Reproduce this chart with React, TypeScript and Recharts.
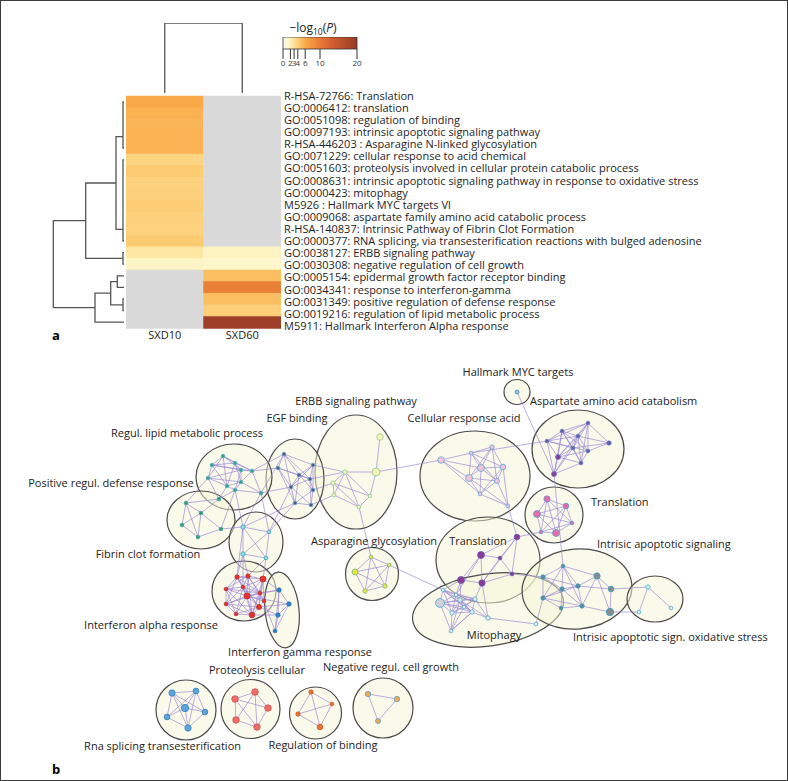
import React from 'react';
import {
  BarChart,
  Bar,
  Cell,
  XAxis,
  YAxis,
  ScatterChart,
  Scatter,
  ReferenceArea,
  ReferenceLine,
} from 'recharts';

const FONT = '"Open Sans", "Noto Sans", sans-serif';

// ---- panel a: enrichment heatmap ----
const terms = [
  'R-HSA-72766: Translation',
  'GO:0006412: translation',
  'GO:0051098: regulation of binding',
  'GO:0097193: intrinsic apoptotic signaling pathway',
  'R-HSA-446203 : Asparagine N-linked glycosylation',
  'GO:0071229: cellular response to acid chemical',
  'GO:0051603: proteolysis involved in cellular protein catabolic process',
  'GO:0008631: intrinsic apoptotic signaling pathway in response to oxidative stress',
  'GO:0000423: mitophagy',
  'M5926 : Hallmark MYC targets Vl',
  'GO:0009068: aspartate family amino acid catabolic process',
  'R-HSA-140837: Intrinsic Pathway of Fibrin Clot Formation',
  'GO:0000377: RNA splicing, via transesterification reactions with bulged adenosine',
  'GO:0038127: ERBB signaling pathway',
  'GO:0030308: negative regulation of cell growth',
  'GO:0005154: epidermal growth factor receptor binding',
  'GO:0034341: response to interferon-gamma',
  'GO:0031349: positive regulation of defense response',
  'GO:0019216: regulation of lipid metabolic process',
  'M5911: Hallmark Interferon Alpha response',
];
const samples = ['SXD10', 'SXD60'];
// -log10(P), null = not enriched
const sxd10 = [6.1, 5.6, 5.4, 5.5, 5.5, 3.8, 4.3, 3.9, 4.0, 4.2, 4.0, 3.9, 4.4, 2.7, 1.6, null, null, null, null, null];
const sxd60 = [null, null, null, null, null, null, null, null, null, null, null, null, null, 1.7, 1.4, 5.0, 9.5, 5.0, 4.1, 19];
const legendTicks = [0, 2, 3, 4, 6, 10, 20];

// dendrogram links: [from, to, height, heightFrom, heightTo]
const rowLinks = [
  [0.5, 4.5, 1, 0, 0],
  [5.5, 12.5, 1, 0, 0],
  [13.5, 14.5, 1, 0, 0],
  [3.5, 11.5, 8, 1, 1],
  [7.5, 14, 38.3, 8, 1],
  [15.5, 16.5, 6.7, 0, 0],
  [17.5, 18.5, 1, 0, 0],
  [16, 18, 13.3, 6.7, 1],
  [17, 19.5, 29, 13.3, 0],
  [10.75, 18.25, 70.7, 38.3, 29],
];
const colLinks = [[0.5, 1.5, 70, 0, 0]];

// ---- panel b: enrichment network (layout coordinates) ----
const clusterNames: Record<string, string> = {
  myc: 'Hallmark MYC targets',
  asp: 'Aspartate amino acid catabolism',
  cra: 'Cellular response acid',
  trr: 'Translation',
  trm: 'Translation',
  mit: 'Mitophagy',
  ias: 'Intrisic apoptotic signaling',
  oxs: 'Intrisic apoptotic sign. oxidative stress',
  erb: 'ERBB signaling pathway',
  egf: 'EGF binding',
  lip: 'Regul. lipid metabolic process',
  pos: 'Positive regul. defense response',
  fib: 'Fibrin clot formation',
  ifa: 'Interferon alpha response',
  ifg: 'Interferon gamma response',
  asn: 'Asparagine glycosylation',
  rna: 'Rna splicing transesterification',
  pro: 'Proteolysis cellular',
  reg: 'Regulation of binding',
  neg: 'Negative regul. cell growth',
};

// cluster hulls: [id, x, y, rx, ry, rotation]
const hulls: [string, number, number, number, number, number][] = [
  ['myc', 517, 392, 13, 12.5, 0],
  ['asp', 578, 449, 46, 39, 0],
  ['cra', 475, 476, 55, 45, 0],
  ['trr', 554, 515, 29, 28, 0],
  ['trm', 488, 560, 52, 43, 0],
  ['mit', 488, 610, 76, 36, -8],
  ['ias', 577, 589, 55, 40, -5],
  ['oxs', 655, 599, 28, 23, 0],
  ['erb', 356, 472, 41, 57, 0],
  ['egf', 295, 479, 29, 40, 0],
  ['lip', 234, 477, 38, 33, 0],
  ['pos', 201, 520, 34, 29, 0],
  ['fib', 256, 542, 27, 30, 0],
  ['ifa', 244, 591, 32, 30, 0],
  ['ifg', 282, 610, 17, 38, -6],
  ['asn', 372, 574, 26.5, 26.5, 0],
  ['rna', 186, 710, 30, 30, 0],
  ['pro', 250.5, 709, 29.5, 29.5, 0],
  ['reg', 315.5, 713, 26, 26, 0],
  ['neg', 383, 708, 30, 30, 0],
];

// label spots: [id, x, y, anchor]
const labelSpots: [string, number, number, string][] = [
  ['myc', 518, 372, 'middle'],
  ['asp', 530, 401, 'start'],
  ['cra', 464, 418, 'middle'],
  ['trr', 591, 502, 'start'],
  ['trm', 478, 541, 'middle'],
  ['mit', 494, 635, 'middle'],
  ['ias', 597, 544, 'start'],
  ['oxs', 573, 637, 'start'],
  ['erb', 356, 401, 'middle'],
  ['egf', 297, 418, 'middle'],
  ['lip', 187, 433, 'middle'],
  ['pos', 111, 483, 'middle'],
  ['fib', 148, 554, 'middle'],
  ['ifa', 151, 625, 'middle'],
  ['ifg', 300, 652, 'middle'],
  ['asn', 374, 541, 'middle'],
  ['rna', 241, 746, 'end'],
  ['pro', 257, 670, 'middle'],
  ['reg', 323, 745, 'middle'],
  ['neg', 391, 667, 'middle'],
];

// nodes: [id, x, y, size]
const nodes: [string, number, number, number][] = [
  ['myc0', 517, 392, 1.2],
  ['asp0', 588, 423, 1], ['asp1', 562, 431, 1], ['asp2', 578, 436, 1], ['asp3', 547, 441, 1],
  ['asp4', 609, 443, 1.5], ['asp5', 573, 448, 1], ['asp6', 588, 451, 1], ['asp7', 558, 457, 2],
  ['asp8', 581, 463, 1], ['asp9', 554, 474, 2],
  ['cra0', 441, 460, 3.2], ['cra1', 471, 453, 1], ['cra2', 492, 447, 1.5], ['cra3', 481, 468, 3.5],
  ['cra4', 503, 467, 2.5], ['cra5', 469, 478, 3.5], ['cra6', 497, 481, 2], ['cra7', 480, 494, 1],
  ['cra8', 508, 506, 1],
  ['trr0', 547, 499, 3], ['trr1', 566, 506, 2.5], ['trr2', 537, 514, 3.5], ['trr3', 572, 523, 1],
  ['trr4', 541, 532, 1], ['trr5', 556, 533, 3.5],
  ['trm0', 517, 537, 2.5], ['trm1', 481, 555, 3.5], ['trm2', 500, 558, 1], ['trm3', 512, 574, 1],
  ['trm4', 461, 580, 3.5], ['trm5', 482, 583, 3],
  ['mit0', 440, 603, 5], ['mit1', 443, 590, 1], ['mit2', 460, 600, 1.5], ['mit3', 475, 599, 1.5],
  ['mit4', 452, 613, 1.5], ['mit5', 472, 612, 1.5], ['mit6', 464, 607, 1], ['mit7', 488, 618, 1.5],
  ['mit8', 451, 631, 1], ['mit9', 536, 624, 1], ['mit10', 456, 595, 1],
  ['ias0', 563, 566, 1], ['ias1', 543, 577, 1.5], ['ias2', 597, 576, 3], ['ias3', 578, 586, 1.5],
  ['ias4', 562, 589, 1.5], ['ias5', 611, 589, 2.5], ['ias6', 543, 598, 1.5], ['ias7', 582, 606, 1.5],
  ['ias8', 561, 608, 1], ['ias9', 610, 612, 3.8],
  ['oxs0', 648, 587, 1.5], ['oxs1', 671, 608, 1], ['oxs2', 639, 612, 1],
  ['erb0', 380, 437, 3.2], ['erb1', 376, 472, 4.3], ['erb2', 345, 472, 1.5], ['erb3', 333, 483, 1.5],
  ['erb4', 334, 495, 1], ['erb5', 370, 496, 1], ['erb6', 359, 507, 1],
  ['egf0', 284, 454, 1], ['egf1', 313, 465, 1], ['egf2', 278, 468, 1], ['egf3', 299, 475, 1],
  ['egf4', 310, 479, 1], ['egf5', 291, 487, 1], ['egf6', 313, 490, 1], ['egf7', 295, 503, 1],
  ['egf8', 311, 505, 1],
  ['lip0', 223, 456, 1], ['lip1', 212, 465, 1], ['lip2', 235, 463, 1], ['lip3', 241, 470, 1],
  ['lip4', 252, 471, 1], ['lip5', 208, 478, 1], ['lip6', 227, 486, 1], ['lip7', 241, 482, 1],
  ['lip8', 235, 490, 1], ['lip10', 261, 493, 1],
  ['pos0', 186, 503, 1], ['pos1', 201, 513, 1], ['pos2', 219, 499, 1], ['pos3', 182, 525, 1],
  ['pos4', 198, 537, 1], ['pos5', 221, 529, 1],
  ['fib0', 243, 527, 1.5], ['fib1', 269, 532, 1], ['fib2', 243, 554, 1.5], ['fib3', 266, 558, 1],
  ['ifa0', 237, 577, 1.5], ['ifa1', 248, 576, 1.5], ['ifa2', 263, 579, 2.8], ['ifa3', 226, 589, 1],
  ['ifa4', 247, 596, 2.8], ['ifa5', 260, 593, 1], ['ifa6', 259, 607, 2], ['ifa7', 236, 614, 1],
  ['ifa8', 252, 615, 2.5], ['ifa9', 226, 604, 1], ['ifa10', 243, 587, 1], ['ifa11', 264, 601, 1],
  ['ifg0', 279, 590, 1.5], ['ifg1', 289, 604, 1.5], ['ifg2', 278, 615, 1.5], ['ifg3', 275, 631, 1],
  ['asn0', 371, 557, 1], ['asn1', 389, 565, 1], ['asn2', 355, 572, 2.8], ['asn3', 365, 591, 1.5],
  ['asn4', 385, 586, 1.5],
  ['rna0', 172, 693, 3], ['rna1', 196, 691, 2.6], ['rna2', 185, 708, 3.8], ['rna3', 205, 712, 2.6],
  ['rna4', 167, 717, 2.6], ['rna5', 188, 728, 3],
  ['pro0', 235, 699, 3.2], ['pro1', 255, 692, 3.2], ['pro2', 268, 708, 3.2], ['pro3', 236, 720, 3.2],
  ['pro4', 257, 727, 3.2],
  ['reg0', 311, 692, 1.5], ['reg1', 332, 704, 1], ['reg2', 298, 714, 1.5], ['reg3', 320, 727, 2.5],
  ['neg0', 368, 694, 2.3], ['neg1', 397, 699, 2.3], ['neg2', 378, 721, 2],
];

const edges = [
  'asp0-asp1 asp0-asp2 asp0-asp3 asp0-asp4 asp0-asp5 asp0-asp6 asp0-asp7 asp0-asp8 asp1-asp2 asp1-asp3 asp1-asp5 asp1-asp6 asp1-asp7 asp1-asp8 asp1-asp9 asp2-asp3 asp2-asp5 asp2-asp6 asp2-asp7 asp2-asp8 asp3-asp5 asp3-asp7 asp3-asp9 asp3-asp6 asp4-asp6 asp4-asp5 asp4-asp2 asp5-asp7 asp5-asp8 asp5-asp9 asp6-asp8 asp6-asp7 asp7-asp9 asp7-asp8 asp8-asp9 asp2-asp9',
  'cra0-cra1 cra0-cra5 cra0-cra7 cra0-cra3 cra1-cra2 cra1-cra3 cra1-cra4 cra1-cra5 cra1-cra6 cra2-cra3 cra2-cra4 cra2-cra6 cra2-cra5 cra3-cra4 cra3-cra5 cra3-cra6 cra3-cra7 cra4-cra6 cra4-cra7 cra4-cra8 cra5-cra6 cra5-cra7 cra6-cra7 cra6-cra8 cra7-cra8 cra5-cra8',
  'trr0-trr1 trr0-trr2 trr0-trr3 trr0-trr4 trr0-trr5 trr1-trr2 trr1-trr3 trr1-trr4 trr1-trr5 trr2-trr3 trr2-trr4 trr2-trr5 trr3-trr5 trr4-trr5 trr3-trr4',
  'trm0-trm1 trm0-trm2 trm0-trm3 trm0-trm5 trm1-trm2 trm1-trm4 trm1-trm5 trm2-trm3 trm2-trm5 trm3-trm5 trm4-trm5',
  'mit0-mit1 mit0-mit2 mit0-mit3 mit0-mit4 mit0-mit5 mit0-mit6 mit0-mit8 mit1-mit2 mit1-mit3 mit1-mit4 mit1-mit5 mit1-mit6 mit1-mit10 mit2-mit3 mit2-mit4 mit2-mit5 mit2-mit6 mit2-mit7 mit2-mit8 mit3-mit4 mit3-mit5 mit3-mit6 mit3-mit7 mit4-mit5 mit4-mit6 mit4-mit8 mit5-mit6 mit5-mit7 mit5-mit8 mit6-mit8 mit6-mit10 mit10-mit3 mit10-mit5 mit10-mit4 mit7-mit9 mit0-mit10 mit8-mit5',
  'ias0-ias1 ias0-ias2 ias0-ias3 ias0-ias4 ias0-ias6 ias0-ias7 ias1-ias4 ias1-ias6 ias1-ias3 ias2-ias3 ias2-ias5 ias2-ias7 ias2-ias9 ias3-ias4 ias3-ias5 ias3-ias7 ias3-ias6 ias4-ias6 ias4-ias8 ias4-ias7 ias5-ias9 ias6-ias8 ias7-ias8 ias7-ias9 ias6-ias7',
  'oxs0-oxs1 oxs0-oxs2',
  'erb0-erb1 erb1-erb2 erb1-erb5 erb2-erb3 erb2-erb4 erb2-erb5 erb2-erb6 erb3-erb4 erb3-erb5 erb3-erb6 erb4-erb6 erb5-erb6',
  'egf0-egf1 egf0-egf2 egf0-egf3 egf0-egf4 egf0-egf5 egf1-egf3 egf1-egf4 egf1-egf6 egf1-egf5 egf2-egf3 egf2-egf5 egf2-egf4 egf3-egf4 egf3-egf5 egf3-egf6 egf3-egf7 egf4-egf5 egf4-egf6 egf4-egf8 egf5-egf7 egf5-egf8 egf6-egf7 egf6-egf8 egf7-egf8 egf2-egf7',
  'lip0-lip1 lip0-lip2 lip0-lip3 lip0-lip4 lip0-lip5 lip0-lip6 lip1-lip2 lip1-lip5 lip1-lip6 lip1-lip3 lip2-lip3 lip2-lip4 lip2-lip6 lip2-lip7 lip3-lip4 lip3-lip5 lip3-lip7 lip3-lip8 lip4-lip7 lip4-lip10 lip5-lip6 lip5-lip7 lip6-lip7 lip6-lip8 lip7-lip8 lip7-lip10 lip8-lip10 lip1-lip4 lip6-pos2 lip8-pos2 lip5-pos2',
  'pos0-pos1 pos0-pos3 pos0-pos4 pos1-pos3 pos1-pos4 pos1-pos2 pos1-pos5 pos3-pos4 pos0-pos2 pos4-pos5',
  'fib0-fib1 fib0-fib2 fib0-fib3 fib1-fib2 fib1-fib3 fib2-fib3',
  'ifa0-ifa1 ifa0-ifa3 ifa0-ifa4 ifa0-ifa10 ifa0-ifa9 ifa0-ifa5 ifa0-ifa6 ifa1-ifa2 ifa1-ifa4 ifa1-ifa10 ifa1-ifa5 ifa1-ifa3 ifa1-ifa8 ifa2-ifa5 ifa2-ifa4 ifa2-ifa11 ifa2-ifa10 ifa2-ifa6 ifa3-ifa9 ifa3-ifa10 ifa3-ifa4 ifa3-ifa7 ifa3-ifa5 ifa4-ifa5 ifa4-ifa6 ifa4-ifa7 ifa4-ifa8 ifa4-ifa9 ifa4-ifa10 ifa4-ifa11 ifa5-ifa6 ifa5-ifa11 ifa5-ifa10 ifa5-ifa8 ifa6-ifa8 ifa6-ifa11 ifa6-ifa7 ifa7-ifa8 ifa7-ifa9 ifa8-ifa9 ifa8-ifa10 ifa9-ifa10 ifa10-ifa6 ifa3-ifa8 ifa9-ifa6 ifa2-ifa8 ifa0-ifa2 ifa1-ifa11 ifa7-ifa10 ifa9-ifa5',
  'ifg0-ifg1 ifg0-ifg2 ifg1-ifg2 ifg1-ifg3 ifg2-ifg3 ifg0-ifg3',
  'asn0-asn1 asn0-asn2 asn0-asn3 asn0-asn4 asn1-asn2 asn1-asn4 asn1-asn3 asn2-asn3 asn2-asn4 asn3-asn4',
  'rna0-rna1 rna0-rna2 rna0-rna3 rna0-rna4 rna0-rna5 rna1-rna2 rna1-rna3 rna1-rna4 rna1-rna5 rna2-rna3 rna2-rna4 rna2-rna5 rna3-rna5 rna4-rna5',
  'pro0-pro1 pro0-pro2 pro0-pro3 pro0-pro4 pro1-pro2 pro1-pro3 pro2-pro4 pro3-pro4 pro1-pro4',
  'reg0-reg1 reg0-reg2 reg0-reg3 reg1-reg2 reg1-reg3 reg2-reg3',
  'neg0-neg1 neg0-neg2 neg1-neg2',
  // links between clusters
  'myc0-asp9 cra1-asp3 cra0-erb1 erb6-asn0 asn1-mit1 cra8-trm0 trr4-trm0 asp9-ias0 trm4-mit1 trm4-mit2 trm4-mit10 trm5-mit3 trm5-mit7 trm1-mit10 trm3-ias1 mit9-ias6 ias9-oxs2 ias5-oxs0',
  'lip4-egf2 lip10-egf0 lip10-egf5 lip4-egf0 egf1-erb2 egf6-erb3 egf4-erb2 egf8-erb4 lip5-pos0 pos5-fib0 lip8-fib0 lip10-fib0 egf7-fib1 egf5-fib1 egf7-fib0 pos5-lip8 lip10-fib1',
  'fib2-ifa0 fib2-ifa1 fib3-ifa2 fib2-ifa10 fib3-ifa1 fib0-ifa0 ifa2-ifg0 ifa4-ifg0 ifa4-ifg1 ifa6-ifg1 ifa8-ifg2 ifa11-ifg3 ifa5-ifg0 ifa6-ifg2',
];

// ---- styling ----
const heatStops: [number, string][] = [
  [0, '#f7f7ef'],
  [1.5, '#fdf6c8'],
  [2.5, '#fdeaa8'],
  [3.5, '#fdd98a'],
  [4.5, '#fcc86c'],
  [6, '#f9aa48'],
  [10, '#e87a34'],
  [14, '#cc5a2e'],
  [20, '#963a28'],
];

const clusterStyle: Record<string, { fill: string; stroke: string; big?: string }> = {
  myc: { fill: '#8ec1e6', stroke: '#4a90c0' },
  asp: { fill: '#5b5fa8', stroke: '#6a78c0', big: '#8a3c9c' },
  cra: { fill: '#f4c4da', stroke: '#5aa8d8' },
  trr: { fill: '#ec6aa8', stroke: '#5a9ad0' },
  trm: { fill: '#8c3a98', stroke: '#6a5ab0' },
  mit: { fill: '#e6eef4', stroke: '#4aa8d0', big: '#cfd0d8' },
  ias: { fill: '#5e8aa0', stroke: '#3aa0b8', big: '#858c94' },
  oxs: { fill: '#d4f0f2', stroke: '#4ab0c8' },
  erb: { fill: '#f4f6b4', stroke: '#8cc8a0' },
  egf: { fill: '#4b5b8a', stroke: '#6aa0c0' },
  lip: { fill: '#35a088', stroke: '#5ab0c0' },
  pos: { fill: '#2f9c78', stroke: '#4aa0a0' },
  fib: { fill: '#9adce6', stroke: '#3aa0c0' },
  ifa: { fill: '#e8302c', stroke: '#b83030' },
  ifg: { fill: '#2c80c8', stroke: '#2c70b0' },
  asn: { fill: '#e8e83c', stroke: '#7ab888' },
  rna: { fill: '#5aa6dc', stroke: '#3a7fb8' },
  pro: { fill: '#f06c64', stroke: '#c85050' },
  reg: { fill: '#e8762c', stroke: '#c85820' },
  neg: { fill: '#f0aa50', stroke: '#5aa0d0' },
};

const hex = (c: string) => [1, 3, 5].map((i) => parseInt(c.slice(i, i + 2), 16));

const heatColor = (v: number | null): string => {
  if (v == null) return '#d9d9d9';
  for (let i = 1; i < heatStops.length; i++) {
    const [v1, c1] = heatStops[i];
    if (v <= v1) {
      const [v0, c0] = heatStops[i - 1];
      const t = (v - v0) / (v1 - v0);
      const a = hex(c0);
      const b = hex(c1);
      return `rgb(${a.map((x, k) => Math.round(x + (b[k] - x) * t)).join(',')})`;
    }
  }
  return heatStops[heatStops.length - 1][1];
};

const heatRows = terms.map((term) => ({ term, SXD10: 1, SXD60: 1 }));

// bracket polyline for one dendrogram link
const linkPoints = (l: number[]) => {
  const [a, b, h, ha, hb] = l;
  return [
    { p: a, q: ha },
    { p: a, q: h },
    { p: b, q: h },
    { p: b, q: hb },
  ];
};

const nodeById: Record<string, { id: string; c: string; x: number; y: number; s: number }> = {};
nodes.forEach(([id, x, y, s]) => {
  nodeById[id] = { id, c: id.replace(/\d+$/, ''), x, y, s };
});
const nodeData = Object.values(nodeById);
const edgeList = edges
  .join(' ')
  .split(/\s+/)
  .filter(Boolean)
  .map((e) => e.split('-').map((k) => nodeById[k]))
  .filter(([a, b]) => a && b);

const hullData = hulls.map(([id, x, y, rx, ry, rot]) => ({ id, x, y, rx, ry, rot }));
const labelData = labelSpots.map(([id, x, y, anchor]) => ({ id, x, y, anchor, text: clusterNames[id] }));

const Blank = () => <g />;

const HEAT_H = 232;
const HEAT_TOP = 10; // room above the heatmap for the first term label
const ROW_H = HEAT_H / terms.length;
const LABEL_SPAN = 230;

// term labels are spread from the top edge to the bottom edge of the heatmap
const TermTick = (p: any) => (
  <text
    x={p.x}
    y={HEAT_TOP + ((p.y - HEAT_TOP - ROW_H / 2) / ROW_H) * (LABEL_SPAN / (terms.length - 1))}
    dy="0.35em"
    textAnchor="start"
    fontSize={11}
    fill="#1e1e1e"
    fontFamily={FONT}
  >
    {p.payload.value}
  </text>
);

const HullShape = (p: any) => (
  <ellipse
    cx={p.cx}
    cy={p.cy}
    rx={p.payload.rx}
    ry={p.payload.ry}
    transform={`rotate(${p.payload.rot} ${p.cx} ${p.cy})`}
    fill="#f6f6d6"
    fillOpacity={0.5}
    stroke="#4a4a4a"
    strokeWidth={1.2}
  />
);

const NodeShape = (p: any) => {
  const st = clusterStyle[p.payload.c];
  const fill = st.big && p.payload.s >= 2 ? st.big : st.fill;
  return (
    <circle cx={p.cx} cy={p.cy} r={1.2 + p.payload.s * 0.65} fill={fill} stroke={st.stroke} strokeWidth={0.8} />
  );
};

const LabelShape = (p: any) => (
  <text x={p.cx} y={p.cy} dy="0.35em" textAnchor={p.payload.anchor} fontSize={11} fill="#222" fontFamily={FONT}>
    {p.payload.text}
  </text>
);

const abs = (left: number, top: number): React.CSSProperties => ({ position: 'absolute', left, top });
const ZERO = { top: 0, right: 0, bottom: 0, left: 0 };

export default function App() {
  const netW = 788;
  const netH = 441;
  const netAxes = [
    <XAxis key="x" type="number" dataKey="x" domain={[0, 788]} allowDataOverflow hide />,
    <YAxis key="y" type="number" dataKey="y" domain={[340, 781]} allowDataOverflow reversed hide />,
  ];
  return (
    <div style={{ position: 'relative', width: 788, height: 781, background: '#fff', overflow: 'hidden', fontFamily: FONT }}>
      <style>{'body{margin:0}'}</style>
      <svg width={0} height={0} style={{ position: 'absolute' }}>
        <defs>
          <linearGradient id="cbar" x1="0" x2="1" y1="0" y2="0">
            {heatStops.map(([v, c]) => (
              <stop key={v} offset={v / 20} stopColor={c} />
            ))}
          </linearGradient>
        </defs>
      </svg>

      {/* column dendrogram */}
      <div style={abs(126, 23)}>
        <ScatterChart width={155} height={70} margin={ZERO}>
          <XAxis type="number" dataKey="p" domain={[0, 2]} allowDataOverflow hide />
          <YAxis type="number" dataKey="q" domain={[0, 70]} allowDataOverflow hide />
          {colLinks.map((l, i) => (
            <Scatter key={i} data={linkPoints(l)} line={{ stroke: '#555', strokeWidth: 1.3 }} shape={Blank} isAnimationActive={false} />
          ))}
        </ScatterChart>
      </div>

      {/* row dendrogram */}
      <div style={abs(52, 96)}>
        <ScatterChart width={72} height={HEAT_H} margin={ZERO}>
          <XAxis type="number" dataKey="q" domain={[0, 72]} allowDataOverflow reversed hide />
          <YAxis type="number" dataKey="p" domain={[0, 20]} allowDataOverflow reversed hide />
          {rowLinks.map((l, i) => (
            <Scatter key={i} data={linkPoints(l)} line={{ stroke: '#555', strokeWidth: 1.3 }} shape={Blank} isAnimationActive={false} />
          ))}
        </ScatterChart>
      </div>

      {/* heatmap */}
      <div style={abs(126, 96 - HEAT_TOP)}>
        <BarChart
          layout="vertical"
          width={595}
          height={HEAT_TOP + HEAT_H + 22}
          data={heatRows}
          margin={{ top: HEAT_TOP, right: 0, bottom: 0, left: 0 }}
          barCategoryGap={0}
        >
          <XAxis
            type="number"
            domain={[0, 2]}
            ticks={[0.5, 1.5]}
            allowDataOverflow
            height={22}
            tickFormatter={(v: number) => samples[Math.floor(v)]}
            axisLine={false}
            tickLine={false}
            tickSize={0}
            tickMargin={3}
            tick={{ fontSize: 11, fill: '#222', fontFamily: FONT }}
          />
          <YAxis
            type="category"
            dataKey="term"
            orientation="right"
            width={440}
            interval={0}
            axisLine={false}
            tickLine={false}
            tickSize={0}
            tickMargin={3}
            tick={TermTick}
          />
          <Bar dataKey="SXD10" stackId="h" isAnimationActive={false}>
            {sxd10.map((v, i) => (
              <Cell key={i} fill={heatColor(v)} stroke={heatColor(v)} strokeWidth={0.5} />
            ))}
          </Bar>
          <Bar dataKey="SXD60" stackId="h" isAnimationActive={false}>
            {sxd60.map((v, i) => (
              <Cell key={i} fill={heatColor(v)} stroke={heatColor(v)} strokeWidth={0.5} />
            ))}
          </Bar>
        </BarChart>
      </div>

      {/* colour legend */}
      <div style={{ ...abs(273, 21), width: 80, textAlign: 'center', fontSize: 12, color: '#222', lineHeight: '14px' }}>
        −log<sub style={{ fontSize: 8.5 }}>10</sub>(<i>P</i>)
      </div>
      <div style={abs(273, 37)}>
        <ScatterChart width={94} height={34} margin={{ top: 0, right: 10, bottom: 0, left: 10 }}>
          <XAxis
            type="number"
            dataKey="x"
            domain={[0, 20]}
            ticks={legendTicks}
            allowDataOverflow
            interval={0}
            height={22}
            axisLine={false}
            tickSize={10}
            tickMargin={1}
            tickLine={{ stroke: '#333' }}
            tick={{ fontSize: 8, fill: '#333', fontFamily: FONT }}
          />
          <YAxis type="number" dataKey="y" domain={[0, 1]} allowDataOverflow hide />
          <ReferenceArea x1={0} x2={20} y1={0} y2={1} fill="url(#cbar)" fillOpacity={1} stroke="#333" strokeWidth={0.8} />
        </ScatterChart>
      </div>

      <div style={{ ...abs(52, 326), fontSize: 13, fontWeight: 700 }}>a</div>
      <div style={{ ...abs(52, 760), fontSize: 13, fontWeight: 700 }}>b</div>

      {/* network: hulls, edges, nodes + labels */}
      <div style={abs(0, 340)}>
        <ScatterChart width={netW} height={netH} margin={ZERO}>
          {netAxes}
          <Scatter data={hullData} shape={HullShape} isAnimationActive={false} />
        </ScatterChart>
      </div>
      <div style={abs(0, 340)}>
        <ScatterChart width={netW} height={netH} margin={ZERO}>
          {netAxes}
          <Scatter data={nodeData} shape={Blank} isAnimationActive={false} />
          {edgeList.map(([a, b], i) => (
            <ReferenceLine
              key={i}
              segment={[
                { x: a.x, y: a.y },
                { x: b.x, y: b.y },
              ]}
              stroke="#9a84d6"
              strokeOpacity={0.75}
              strokeWidth={0.9}
              ifOverflow="visible"
            />
          ))}
        </ScatterChart>
      </div>
      <div style={abs(0, 340)}>
        <ScatterChart width={netW} height={netH} margin={ZERO}>
          {netAxes}
          <Scatter data={nodeData} shape={NodeShape} isAnimationActive={false} />
          <Scatter data={labelData} shape={LabelShape} isAnimationActive={false} />
        </ScatterChart>
      </div>

      <div style={{ position: 'absolute', inset: 0, border: '1px solid #3c3c3c', boxSizing: 'border-box', pointerEvents: 'none' }} />
    </div>
  );
}
